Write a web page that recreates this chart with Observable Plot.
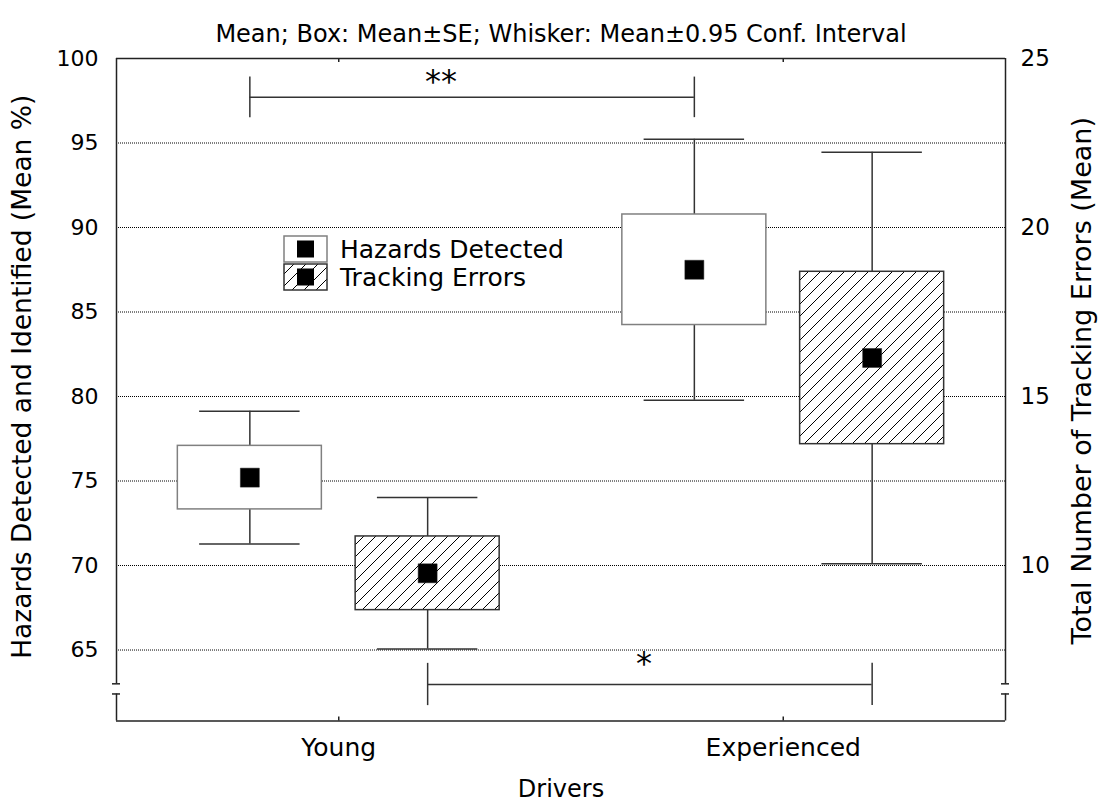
<!DOCTYPE html>
<html><head><meta charset="utf-8">
<script src="https://cdn.jsdelivr.net/npm/d3@7"></script>
<script src="https://cdn.jsdelivr.net/npm/@observablehq/plot@0.6"></script>
<style>
body{margin:0;background:#fff;}
#wrap{position:relative;width:1100px;height:811px;font-family:"DejaVu Sans",sans-serif;}
#legend{position:absolute;left:283px;top:235px;}
.item{display:flex;align-items:center;height:28px;font-size:25px;color:#000;}
.item svg{display:block;margin-right:12px;}
</style></head><body><div id="wrap"></div>
<script>
// ---- data ----
const drivers = ["Young", "Experienced"];
const series = ["Hazards Detected", "Tracking Errors"];
const hazardsMean = [75.2, 87.5];   // %
const hazardsSE   = [1.88, 3.27];
const hazardsCI   = [3.93, 7.72];   // half-width of 0.95 CI
const trackingMean = [9.77, 16.14]; // count (right axis)
const trackingSE   = [1.09, 2.55];
const trackingCI   = [2.24, 6.09];
const leftTicks  = [65, 70, 75, 80, 85, 90, 95, 100];
const rightTicks = [10, 15, 20, 25];
const comparisons = [
  {label: "**", series: 0},
  {label: "*",  series: 1}
];

// ---- layout constants ----
const toLeft = v => 2 * v + 50;       // right axis -> left axis units
const yMin = 60.8, yMax = 100;
const breakHi = 63.0, breakLo = 62.4;
const OFF = 0.2, BW = 0.162, CW = 0.113;
const xL = -0.5, xR = 1.5, capW = 0.009;

const rows = drivers.flatMap((d, i) => [
  {x: i - OFF, kind: 0, mean: hazardsMean[i], se: hazardsSE[i], ci: hazardsCI[i]},
  {x: i + OFF, kind: 1, mean: toLeft(trackingMean[i]), se: 2 * trackingSE[i], ci: 2 * trackingCI[i]}
]);
const haz = rows.filter(r => r.kind === 0);
const trk = rows.filter(r => r.kind === 1);

const brLevels = [97.7, 62.96], brHalf = [1.2, 1.25], brText = [98.6, 64.2], brDx = [-31, -6];
const brackets = comparisons.map((c, k) => {
  const pts = rows.filter(r => r.kind === c.series);
  return {label: c.label, x1: pts[0].x, x2: pts[1].x, y: brLevels[k], h: brHalf[k], ty: brText[k], dx: brDx[k]};
});

const frameColor = "#222";
const plot = Plot.plot({
  width: 1100, height: 811,
  marginLeft: 116, marginRight: 95, marginTop: 58, marginBottom: 90.5,
  style: {fontFamily: "DejaVu Sans", background: "white", color: "black"},
  x: {type: "linear", domain: [xL, xR]},
  y: {domain: [yMin, yMax]},
  marks: [
    // dotted grid
    Plot.ruleY(leftTicks.filter(v => v < yMax), {stroke: "#000", strokeWidth: 1, strokeDasharray: "1,1"}),
    // whiskers
    Plot.ruleX(rows, {x: "x", y1: d => d.mean + d.se, y2: d => d.mean + d.ci, stroke: "#333", strokeWidth: 1.5}),
    Plot.ruleX(rows, {x: "x", y1: d => d.mean - d.se, y2: d => d.mean - d.ci, stroke: "#333", strokeWidth: 1.5}),
    Plot.ruleY(rows, {y: d => d.mean + d.ci, x1: d => d.x - CW, x2: d => d.x + CW, stroke: "#333", strokeWidth: 1.5}),
    Plot.ruleY(rows, {y: d => d.mean - d.ci, x1: d => d.x - CW, x2: d => d.x + CW, stroke: "#333", strokeWidth: 1.5}),
    // boxes
    Plot.rect(haz, {x1: d => d.x - BW, x2: d => d.x + BW, y1: d => d.mean - d.se, y2: d => d.mean + d.se,
      fill: "white", stroke: "#808080", strokeWidth: 1.5}),
    Plot.rect(trk, {x1: d => d.x - BW, x2: d => d.x + BW, y1: d => d.mean - d.se, y2: d => d.mean + d.se,
      fill: "url(#hatch)", stroke: "#333", strokeWidth: 1.5}),
    // means
    Plot.dot(rows, {x: "x", y: "mean", symbol: "square", r: 10.7, fill: "black", stroke: "#222", strokeWidth: 0.5}),
    // significance brackets
    Plot.ruleY(brackets, {y: "y", x1: "x1", x2: "x2", stroke: "#333", strokeWidth: 1.5}),
    Plot.ruleX(brackets, {x: "x1", y1: d => d.y - d.h, y2: d => d.y + d.h, stroke: "#333", strokeWidth: 1.5}),
    Plot.ruleX(brackets, {x: "x2", y1: d => d.y - d.h, y2: d => d.y + d.h, stroke: "#333", strokeWidth: 1.5}),
    Plot.text(brackets, {x: d => (d.x1 + d.x2) / 2, y: "ty", text: "label", fontSize: 32, fill: "black"}),
    // frame with axis breaks
    Plot.ruleY([yMax, yMin], {x1: xL, x2: xR, stroke: frameColor, strokeWidth: 1.5}),
    Plot.ruleX([xL, xR], {y1: yMax, y2: breakHi, stroke: frameColor, strokeWidth: 1.5}),
    Plot.ruleX([xL, xR], {y1: breakLo, y2: yMin, stroke: frameColor, strokeWidth: 1.5}),
    Plot.ruleY([breakHi, breakLo], {x1: xL - capW, x2: xL + capW, stroke: frameColor, strokeWidth: 1.5}),
    Plot.ruleY([breakHi, breakLo], {x1: xR - capW, x2: xR + capW, stroke: frameColor, strokeWidth: 1.5}),
    // category ticks (inward, top and bottom)
    Plot.ruleX(drivers.map((d, i) => i), {y1: yMin, y2: yMin + 0.24, stroke: frameColor, strokeWidth: 1.5}),
    Plot.ruleX(drivers.map((d, i) => i), {y1: yMax, y2: yMax - 0.24, stroke: frameColor, strokeWidth: 1.5}),
    // axes
    Plot.axisX({ticks: drivers.map((d, i) => i), tickFormat: i => drivers[i], tickSize: 0, tickPadding: 17, fontSize: 25, label: null}),
    Plot.axisY({anchor: "left", ticks: leftTicks, tickFormat: d => String(d), tickSize: 0, tickPadding: 18, fontSize: 22, label: null}),
    Plot.axisY({anchor: "right", ticks: rightTicks.map(toLeft), tickFormat: v => String((v - 50) / 2), tickSize: 0, tickPadding: 15, fontSize: 23, label: null}),
    // titles
    Plot.text(["Mean; Box: Mean±SE; Whisker: Mean±0.95 Conf. Interval"], {frameAnchor: "top", dy: -34, fontSize: 24, fill: "black"}),
    Plot.text(["Drivers"], {frameAnchor: "bottom", dy: 76, fontSize: 24, fill: "black"}),
    Plot.text(["Hazards Detected and Identified (Mean %)"], {frameAnchor: "left", textAnchor: "middle", rotate: -90, dx: -94, dy: -13, fontSize: 26.5, fill: "black"}),
    Plot.text(["Total Number of Tracking Errors (Mean)"], {frameAnchor: "right", textAnchor: "middle", rotate: -90, dx: 77, dy: -9, fontSize: 27, fill: "black"})
  ]
});

// hatch pattern
const svgSel = d3.select(plot);
const defs = svgSel.insert("defs", ":first-child");
function addHatch(sel, id) {
  const p = sel.append("pattern").attr("id", id).attr("patternUnits", "userSpaceOnUse").attr("width", 12).attr("height", 12);
  p.append("rect").attr("width", 12).attr("height", 12).attr("fill", "white");
  p.append("path").attr("d", "M0,12 L12,0 M-3,3 L3,-3 M9,15 L15,9").attr("stroke", "#000").attr("stroke-width", 1);
}
addHatch(defs, "hatch");

// shift significance labels
svgSel.selectAll("text").each(function() {
  const t = this.textContent;
  const b = brackets.find(b => b.label === t);
  if (b) { d3.select(this).attr("dx", b.dx); }
});

const wrap = document.getElementById("wrap");
wrap.appendChild(plot);

// legend
const legend = document.createElement("div");
legend.id = "legend";
legend.innerHTML = series.map((s, k) => `
  <div class="item">
    <svg width="45" height="28">
      <defs>${k === 1 ? '<pattern id="hatchL" patternUnits="userSpaceOnUse" width="12" height="12"><rect width="12" height="12" fill="white"/><path d="M0,12 L12,0 M-3,3 L3,-3 M9,15 L15,9" stroke="#000" stroke-width="1"/></pattern>' : ''}</defs>
      <rect x="1" y="1" width="43" height="26" fill="${k === 0 ? 'white' : 'url(#hatchL)'}" stroke="${k === 0 ? '#808080' : '#333'}" stroke-width="1.5"/>
      <rect x="14" y="5.5" width="17" height="17" fill="black"/>
    </svg>
    <span>${s}</span>
  </div>`).join("");
wrap.appendChild(legend);
</script></body></html>
